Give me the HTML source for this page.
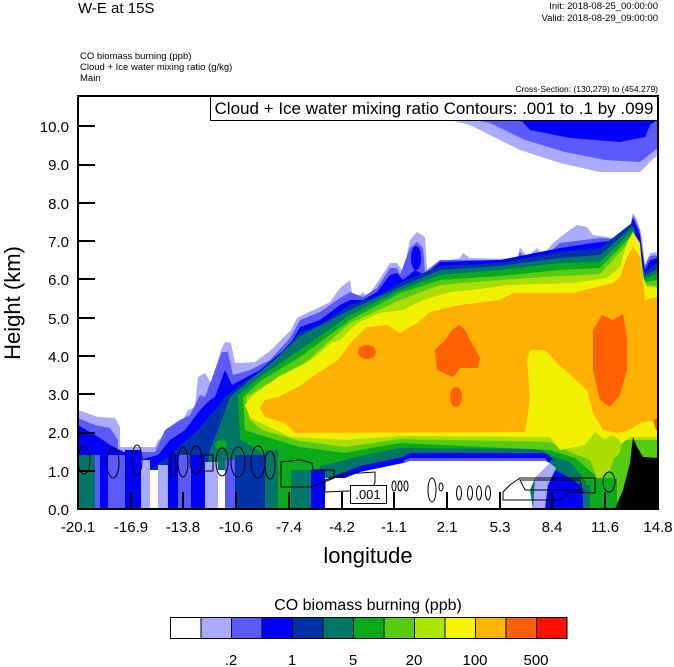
<!DOCTYPE html>
<html><head><meta charset="utf-8"><style>
html,body{margin:0;padding:0;background:#fff;}
svg{display:block;font-family:"Liberation Sans",Arial,sans-serif;}
</style></head><body>
<svg width="674" height="667" viewBox="0 0 674 667" xmlns="http://www.w3.org/2000/svg">
<rect width="674" height="667" fill="#fff"/>
<text x="78" y="13" font-size="15">W-E at 15S</text>
<text x="658" y="9" font-size="9.5" text-anchor="end">Init: 2018-08-25_00:00:00</text>
<text x="658" y="21" font-size="9.5" text-anchor="end">Valid: 2018-08-29_09:00:00</text>
<text x="80" y="59" font-size="9.5">CO biomass burning   (ppb)</text>
<text x="80" y="70" font-size="9.5">Cloud + Ice water mixing ratio   (g/kg)</text>
<text x="80" y="81" font-size="9.5">Main</text>
<text x="658" y="92" font-size="8.5" text-anchor="end">Cross-Section: (130,279) to (454,279)</text>

<polygon fill="#aaaaff" points="446,119 470,125 520,150 560,163 600,172 640,172 652,160 658,155 658,119"/>
<polygon fill="#5a5aff" points="470,119 490,123 525,140 565,152 605,160 640,162 658,148 658,119"/>
<polygon fill="#0000ff" points="520,119 530,130 570,138 620,142 645,137 650,125 658,119"/>

<polygon fill="#aaaaff" points="78,410 98,417 115,418 120,427 120,447 155,447 158,440 178,430 188,410 195,407 198,377 205,373 211,383 221,350 225,342 231,343 235,363 241,363 255,362 271,350 291,330 297,318 307,313 320,307 330,302 340,288 350,280 353,300 363,292 367,297 377,283 390,263 397,263 403,272 410,240 417,232 425,237 427,270 437,263 450,260 460,258 463,253 470,258 517,259 520,247 527,257 537,248 543,255 553,243 567,232 577,225 587,227 593,235 613,238 620,243 628,237 633,213 637,220 642,237 645,265 650,253 658,252 658,509 78,509"/>
<polygon fill="#5a5aff" points="78,418 95,425 110,428 118,440 118,452 155,452 165,430 180,420 190,415 200,395 205,397 215,370 222,352 228,352 233,375 250,370 270,360 290,338 300,320 320,312 340,298 350,292 363,297 377,288 390,268 397,268 400,275 410,248 417,242 423,248 425,272 440,260 517,260 520,252 525,260 537,253 543,258 560,243 600,238 628,240 633,215 640,230 644,267 650,256 658,255 658,509 78,509"/>
<polygon fill="#0000ff" points="78,425 100,438 110,445 140,460 158,455 170,440 185,430 200,410 210,400 215,397 225,370 232,385 260,370 290,345 300,327 320,320 340,305 350,300 363,300 377,292 390,275 397,273 403,280 415,270 425,275 440,262 500,260 560,248 600,242 625,240 633,218 640,235 645,270 650,260 658,258 658,509 78,509"/>
<ellipse cx="416" cy="258" rx="5" ry="12" fill="#0000ff"/>
<polygon fill="#0033aa" points="140,509 150,470 170,455 198,430 215,410 225,397 240,385 270,365 300,332 320,325 350,305 380,295 400,283 440,266 500,263 560,252 600,248 633,222 645,273 658,262 658,509"/>
<polygon fill="#007766" points="200,509 210,450 218,430 230,397 250,380 280,355 300,336 350,310 400,287 440,270 500,266 560,258 600,255 633,226 645,276 658,268 658,509"/>
<polygon fill="#0aaa1a" points="238,395 260,377 300,350 350,315 400,290 440,275 500,270 560,263 600,262 633,230 645,279 658,273 658,509 590,509 585,480 570,462 552,456 540,449 400,448 360,456 345,460 320,466 311,509 278,509 278,470 265,455 250,445 240,440"/>
<ellipse cx="221" cy="445" rx="6" ry="5" fill="#0aaa1a"/>
<polygon fill="#55cc11" points="243,397 262,380 300,357 350,320 400,293 440,280 500,276 560,270 600,268 633,234 645,282 658,280 658,509 600,509 595,475 575,458 550,450 400,443 360,450 345,453 300,447 260,435 245,430"/>
<polygon fill="#aadd00" points="246,397 265,385 300,367 350,323 400,300 440,285 500,280 560,276 600,274 633,238 645,285 658,286 658,440 620,440 610,470 598,480 590,460 570,452 550,442 400,439 360,445 345,447 300,441 262,430 250,420"/>
<polygon fill="#f0f000" points="251,397 278,377 311,360 331,343 340,340 357,323 380,313 403,310 423,300 450,292 473,290 507,285 573,283 607,278 620,267 627,243 633,232 640,243 643,277 647,287 658,288 658,437 630,437 620,445 605,440 595,432 585,445 560,450 550,437 400,436 345,440 290,437 265,425 250,418 245,405"/>
<ellipse cx="612" cy="447" rx="9" ry="11" fill="#aadd00"/>
<polygon fill="#ffb000" points="260,408 265,400 278,397 298,387 318,373 338,360 353,340 367,327 387,325 400,333 417,323 430,312 450,307 460,305 500,300 513,293 573,293 613,283 620,277 627,257 633,247 640,257 643,280 645,300 658,297 658,420 640,423 630,430 617,433 603,430 593,413 587,390 557,363 545,350 530,350 527,360 530,400 525,432 295,433 285,423 265,417"/>
<polygon fill="#ff6000" points="445,340 452,330 459,325 465,330 470,340 480,358 478,368 460,368 453,377 437,370 435,350"/>
<ellipse cx="456" cy="397" rx="6" ry="10" fill="#ff6000"/>
<polygon fill="#ff6000" points="602,315 613,320 623,314 627,340 627,370 620,395 610,407 600,400 593,370 593,330"/>
<ellipse cx="367" cy="352" rx="9" ry="7" fill="#ff6000"/>
<polygon fill="#ff6000" points="653,420 658,418 658,430 656,430"/>

<!-- blue strip above white hole -->
<polygon fill="#0000ff" points="322,480 345,472 360,466 403,457 410,453 545,453 553,459 545,466 410,462 403,465 360,474 345,480"/>
<polygon fill="#5a5aff" points="403,461 410,458 545,458 548,462 545,465 410,464"/>

<!-- white hole -->
<polygon fill="#fff" points="325,509 325,478 345,478 360,472 403,463 410,461 545,461 550,463 535,478 530,490 533,509"/>
<polygon fill="#aaaaff" points="533,509 535,478 550,463 556,468 548,485 545,509"/>
<polygon fill="#0000ff" points="545,509 548,485 556,470 570,478 580,485 585,495 588,509"/>
<rect x="583" y="485" width="8" height="24" fill="#007766"/>
<rect x="590" y="478" width="27" height="31" fill="#0aaa1a"/>

<rect x="78" y="455" width="17" height="54" fill="#007766"/>
<rect x="95" y="455" width="5" height="54" fill="#5a5aff"/>
<rect x="100" y="450" width="8" height="59" fill="#0000ff"/>
<rect x="108" y="455" width="17" height="54" fill="#5a5aff"/>
<rect x="125" y="450" width="16" height="59" fill="#0000ff"/>
<rect x="141" y="460" width="9" height="49" fill="#aaaaff"/>
<rect x="150" y="470" width="8" height="39" fill="#fff"/>
<rect x="158" y="465" width="10" height="44" fill="#aaaaff"/>
<rect x="168" y="455" width="10" height="54" fill="#0000ff"/>
<rect x="178" y="455" width="13" height="54" fill="#5a5aff"/>
<rect x="191" y="455" width="14" height="54" fill="#0000ff"/>
<rect x="205" y="462" width="13" height="47" fill="#aaaaff"/>
<rect x="218" y="470" width="7" height="39" fill="#fff"/>
<rect x="225" y="460" width="10" height="49" fill="#5a5aff"/>
<rect x="235" y="455" width="30" height="54" fill="#0033aa"/>
<rect x="265" y="450" width="13" height="59" fill="#007766"/>
<rect x="278" y="470" width="13" height="39" fill="#0aaa1a"/>
<rect x="291" y="470" width="20" height="39" fill="#007766"/>
<rect x="311" y="470" width="14" height="39" fill="#0000ff"/>

<polygon fill="#000" points="615,509 623,490 630,463 633,437 637,447 643,457 658,458 658,509"/>

<g fill="none" stroke="#000" stroke-width="1">
<ellipse cx="84" cy="460" rx="6" ry="14"/>
<ellipse cx="113" cy="463" rx="6" ry="15"/>
<ellipse cx="137" cy="460" rx="5" ry="15"/>
<ellipse cx="173" cy="465" rx="3" ry="12"/>
<ellipse cx="183" cy="462" rx="5" ry="15"/>
<ellipse cx="196" cy="460" rx="6" ry="14"/>
<rect x="201" y="455" width="12" height="16"/>
<ellipse cx="222" cy="462" rx="6" ry="14"/>
<ellipse cx="238" cy="462" rx="7" ry="15"/>
<ellipse cx="258" cy="462" rx="7" ry="16"/>
<ellipse cx="270" cy="465" rx="5" ry="14"/>
<polygon points="281,462 300,460 312,463 313,470 334,470 334,478 312,487 281,487"/>
<polygon points="325,480 345,474 375,472 375,482 372,490 325,492"/>
<ellipse cx="394" cy="486" rx="2" ry="5"/>
<ellipse cx="400" cy="486" rx="2" ry="5"/>
<ellipse cx="406" cy="486" rx="2" ry="5"/>
<ellipse cx="432" cy="490" rx="4" ry="12"/>
<ellipse cx="441" cy="487" rx="2" ry="4"/>
<ellipse cx="459" cy="493" rx="2.5" ry="7"/>
<ellipse cx="470" cy="493" rx="2.5" ry="7"/>
<ellipse cx="479" cy="493" rx="2.5" ry="7"/>
<ellipse cx="488" cy="493" rx="2.5" ry="7"/>
<polygon points="503,492 510,485 520,478 595,478 595,493 570,492 560,500 503,500"/>
<polygon points="520,480 580,480 582,490 525,490"/>
<ellipse cx="609" cy="482" rx="6" ry="10"/>
</g>
<rect x="350.5" y="485.5" width="36" height="18" fill="#fff" stroke="#000"/>
<text x="368" y="499" font-size="13" text-anchor="middle">.001</text>

<rect x="210.5" y="96.5" width="447" height="24" fill="#fff" stroke="#000"/>
<text x="434" y="114" font-size="17" text-anchor="middle">Cloud + Ice water mixing ratio Contours: .001 to .1 by .099</text>

<rect x="78" y="96" width="580" height="413" fill="none" stroke="#000" stroke-width="2"/>
<g stroke="#000" stroke-width="2">
<line x1="78" y1="471" x2="95" y2="471"/><line x1="78" y1="433" x2="95" y2="433"/>
<line x1="78" y1="394" x2="95" y2="394"/><line x1="78" y1="356" x2="95" y2="356"/>
<line x1="78" y1="318" x2="95" y2="318"/><line x1="78" y1="279" x2="95" y2="279"/>
<line x1="78" y1="241" x2="95" y2="241"/><line x1="78" y1="203" x2="95" y2="203"/>
<line x1="78" y1="165" x2="95" y2="165"/><line x1="78" y1="126" x2="95" y2="126"/>
<line x1="131" y1="509" x2="131" y2="492"/><line x1="183" y1="509" x2="183" y2="492"/>
<line x1="236" y1="509" x2="236" y2="492"/><line x1="289" y1="509" x2="289" y2="492"/>
<line x1="342" y1="509" x2="342" y2="492"/><line x1="394" y1="509" x2="394" y2="492"/>
<line x1="447" y1="509" x2="447" y2="492"/><line x1="500" y1="509" x2="500" y2="492"/>
<line x1="552" y1="509" x2="552" y2="492"/><line x1="605" y1="509" x2="605" y2="492"/>
</g>
<g font-size="15" text-anchor="end">
<text x="69" y="515">0.0</text><text x="69" y="477">1.0</text><text x="69" y="438">2.0</text>
<text x="69" y="400">3.0</text><text x="69" y="362">4.0</text><text x="69" y="324">5.0</text>
<text x="69" y="285">6.0</text><text x="69" y="247">7.0</text><text x="69" y="209">8.0</text>
<text x="69" y="170">9.0</text><text x="69" y="132">10.0</text>
</g>
<g font-size="15" text-anchor="middle">
<text x="78" y="532">-20.1</text><text x="131" y="532">-16.9</text><text x="183" y="532">-13.8</text>
<text x="236" y="532">-10.6</text><text x="289" y="532">-7.4</text><text x="342" y="532">-4.2</text>
<text x="394" y="532">-1.1</text><text x="447" y="532">2.1</text><text x="500" y="532">5.3</text>
<text x="552" y="532">8.4</text><text x="605" y="532">11.6</text><text x="658" y="532">14.8</text>
</g>
<text x="368" y="563" font-size="22" text-anchor="middle">longitude</text>
<text transform="translate(20,303) rotate(-90)" font-size="22" text-anchor="middle">Height (km)</text>

<text x="368" y="610" font-size="16" text-anchor="middle">CO biomass burning  (ppb)</text>
<g stroke="#000" stroke-width="1">
<rect x="170.5" y="617.5" width="30.5" height="21" fill="#fefefe"/>
<rect x="201" y="617.5" width="30.5" height="21" fill="#aaaaff"/>
<rect x="231.5" y="617.5" width="30.5" height="21" fill="#5a5aff"/>
<rect x="262" y="617.5" width="30.5" height="21" fill="#0000ff"/>
<rect x="292.5" y="617.5" width="30.5" height="21" fill="#0033aa"/>
<rect x="323" y="617.5" width="30.5" height="21" fill="#007766"/>
<rect x="353.5" y="617.5" width="30.5" height="21" fill="#0aaa1a"/>
<rect x="384" y="617.5" width="30.5" height="21" fill="#55cc11"/>
<rect x="414.5" y="617.5" width="30.5" height="21" fill="#aae600"/>
<rect x="445" y="617.5" width="30.5" height="21" fill="#f5f500"/>
<rect x="475.5" y="617.5" width="30.5" height="21" fill="#ffb400"/>
<rect x="506" y="617.5" width="30.5" height="21" fill="#ff6000"/>
<rect x="536.5" y="617.5" width="30.5" height="21" fill="#ff1000"/>
</g>
<g font-size="15" text-anchor="middle">
<text x="231" y="665">.2</text><text x="292" y="665">1</text><text x="353" y="665">5</text>
<text x="414" y="665">20</text><text x="475" y="665">100</text><text x="536" y="665">500</text>
</g>
</svg>
</body></html>
